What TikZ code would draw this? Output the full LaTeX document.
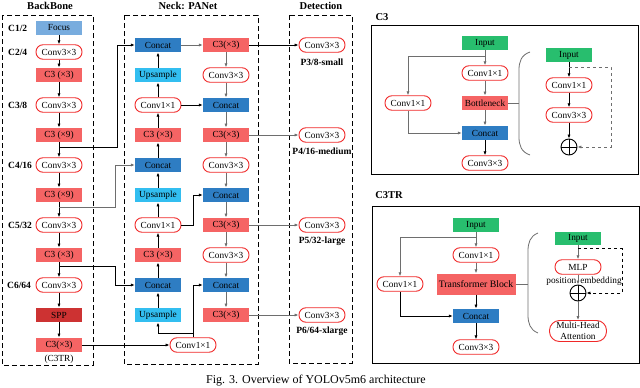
\documentclass[tikz,border=0pt]{standalone}
\usepackage{fontspec}
\setmainfont{Liberation Serif}
\usepackage{xcolor}
\usetikzlibrary{arrows.meta, positioning, calc}
\definecolor{yred}{RGB}{245,100,100}
\definecolor{ydarkred}{RGB}{205,50,50}
\definecolor{yconv}{RGB}{240,40,40}
\definecolor{yblue}{RGB}{46,125,195}
\definecolor{ysky}{RGB}{50,190,240}
\definecolor{yfocus}{RGB}{120,172,222}
\definecolor{ygreen}{RGB}{40,190,110}
\definecolor{ygray}{RGB}{110,110,110}

\begin{document}
\begin{tikzpicture}[x=1pt, y=1pt,
  every node/.style={font=\fontsize{9.3}{11}\selectfont, inner sep=0pt},
  node distance=30pt, on grid,
  box/.style={minimum width=46pt, minimum height=14.5pt},
  conv/.style={draw=yconv, fill=white, line width=0.9pt, rounded corners=7pt, minimum width=46pt, minimum height=14.5pt},
  c3/.style={box, fill=yred},
  concat/.style={box, fill=yblue},
  upsample/.style={box, fill=ysky},
  inbox/.style={box, fill=ygreen},
  lbl/.style={font=\fontsize{9.5}{11}\selectfont\bfseries},
  ttl/.style={font=\fontsize{10.5}{12}\selectfont\bfseries},
  arr/.style={-{Latex[length=4pt,width=3.2pt]}, line width=0.8pt},
  garr/.style={arr, ygray},
  group/.style={draw, dash pattern=on 5pt off 3pt, line width=0.9pt},
  panel/.style={draw, line width=1pt},
  addop/.style={circle, draw, line width=0.9pt, minimum size=16pt}
]
  \useasboundingbox (0,0) rectangle (640,-388);

  % backbone
  \draw[group] (2,-15) rectangle (93,-365);
  \node[ttl] (bbttl) at (50,-6) {BackBone};
  \node[box, fill=yfocus] (focus) at (59,-28) {Focus};
  \node[conv, below=24pt of focus] (bbconv1) {Conv3×3};
  \node[c3, below=23pt of bbconv1] (bbc3a) {C3 (×3)};
  \node[conv, below=of bbc3a] (bbconv2) {Conv3×3};
  \node[c3, below=of bbconv2] (bbc3b) {C3 (×9)};
  \node[conv, below=of bbc3b] (bbconv3) {Conv3×3};
  \node[c3, below=of bbconv3] (bbc3c) {C3 (×9)};
  \node[conv, below=of bbc3c] (bbconv4) {Conv3×3};
  \node[c3, below=of bbconv4] (bbc3d) {C3 (×3)};
  \node[conv, below=of bbc3d] (bbconv5) {Conv3×3};
  \node[box, fill=ydarkred, below=of bbconv5] (spp) {SPP};
  \node[c3, below=of spp] (bbc3tr) {C3(×3)};
  \node[below=14pt of bbc3tr] (bbnote) {(C3TR)};
  \foreach \a/\b in {focus/bbconv1, bbconv1/bbc3a, bbc3a/bbconv2, bbconv2/bbc3b, bbc3b/bbconv3,
    bbconv3/bbc3c, bbc3c/bbconv4, bbconv4/bbc3d, bbc3d/bbconv5, bbconv5/spp, spp/bbc3tr}
    \draw[arr] (\a) -- (\b);
  \node[lbl, anchor=west] (lc1) at (8,0 |- focus) {C1/2};
  \node[lbl, anchor=west] (lc2) at (8,0 |- bbconv1) {C2/4};
  \node[lbl, anchor=west] (lc3) at (8,0 |- bbconv2) {C3/8};
  \node[lbl, anchor=west] (lc4) at (8,0 |- bbconv3) {C4/16};
  \node[lbl, anchor=west] (lc5) at (8,0 |- bbconv4) {C5/32};
  \node[lbl, anchor=west] (lc6) at (7,0 |- bbconv5) {C6/64};

  % neck
  \draw[group] (124,-15) rectangle (258,-364);
  \node[ttl] (nkttl) at (188,-6) {Neck: PANet};
  \node[concat] (ncat1) at (158,-45) {Concat};
  \node[upsample, below=of ncat1] (nup1) {Upsample};
  \node[conv, below=of nup1] (nconv1) {Conv1×1};
  \node[c3, below=of nconv1] (nc3a) {C3 (×3)};
  \node[concat, below=of nc3a] (ncat2) {Concat};
  \node[upsample, below=of ncat2] (nup2) {Upsample};
  \node[conv, below=of nup2] (nconv2) {Conv1×1};
  \node[c3, below=of nconv2] (nc3b) {C3 (×3)};
  \node[concat, below=of nc3b] (ncat3) {Concat};
  \node[upsample, below=of ncat3] (nup3) {Upsample};
  \node[conv, right=134pt of bbc3tr] (nconv3) {Conv1×1};
  \foreach \a/\b in {nup1/ncat1, nconv1/nup1, nc3a/nconv1, ncat2/nc3a, nup2/ncat2,
    nconv2/nup2, nc3b/nconv2, ncat3/nc3b, nup3/ncat3}
    \draw[arr] (\a) -- (\b);

  \node[c3, right=68pt of ncat1] (pc3a) {C3(×3)};
  \node[conv, below=of pc3a] (pconv1) {Conv3×3};
  \node[concat, below=of pconv1] (pcat1) {Concat};
  \node[c3, below=of pcat1] (pc3b) {C3(×3)};
  \node[conv, below=of pc3b] (pconv2) {Conv3×3};
  \node[concat, below=of pconv2] (pcat2) {Concat};
  \node[c3, below=of pcat2] (pc3c) {C3(×3)};
  \node[conv, below=of pc3c] (pconv3) {Conv3×3};
  \node[concat, below=of pconv3] (pcat3) {Concat};
  \node[c3, below=of pcat3] (pc3d) {C3(×3)};
  \foreach \a/\b in {pc3a/pconv1, pconv1/pcat1, pcat1/pc3b, pc3b/pconv2, pconv2/pcat2,
    pcat2/pc3c, pc3c/pconv3, pconv3/pcat3, pcat3/pc3d}
    \draw[garr] (\a) -- (\b);
  \draw[garr] (ncat1) -- (pc3a);
  \draw[arr] (nconv1) -- (pcat1);
  \draw[arr] (nconv2.east) -- ++(12,0) |- (pcat2.west);
  \draw[arr] (nconv3.north) |- (pcat3.west);
  \coordinate (nsplit) at ($(nconv3.north)+(0,4)$);
  \draw[arr] (nsplit) -| (nup3.south);

  % backbone to neck
  \coordinate (tap1) at ($(bbc3b.south)+(0,-5)$);
  \coordinate (tap2) at ($(bbc3c.south)+(0,-5)$);
  \coordinate (tap3) at ($(bbc3d.south)+(0,-4)$);
  \draw[arr] (tap1) -- ++(58,0) |- (ncat1.west);
  \draw[garr] (tap2) -- ++(56,0) |- (ncat2.west);
  \draw[arr] (tap3) -- ++(56,0) |- (ncat3.west);
  \draw[arr] (bbc3tr) -- (nconv3);

  % detection
  \draw[group] (289,-15) rectangle (352,-363);
  \node[ttl] (dtttl) at (321,-6) {Detection};
  \node[conv, right=96pt of pc3a] (det1) {Conv3×3};
  \node[conv, right=96pt of pc3b] (det2) {Conv3×3};
  \node[conv, right=96pt of pc3c] (det3) {Conv3×3};
  \node[conv, right=96pt of pc3d] (det4) {Conv3×3};
  \node[lbl, below=17pt of det1] (dl1) {P3/8-small};
  \node[lbl, below=16pt of det2] (dl2) {P4/16-medium};
  \node[lbl, below=16pt of det3] (dl3) {P5/32-large};
  \node[lbl, below=16pt of det4] (dl4) {P6/64-xlarge};
  \draw[arr] (pc3a) -- (det1);
  \draw[garr] (pc3b) -- (det2);
  \draw[garr] (pc3c) -- (det3);
  \draw[garr] (pc3d) -- (det4);

  % C3 panel
  \draw[panel] (371,-25) rectangle (638,-174);
  \node[ttl] (c3ttl) at (382,-17) {C3};
  \node[inbox] (c3in) at (485,-43) {Input};
  \node[conv, below=of c3in] (c3conv1) {Conv1×1};
  \node[c3, below=of c3conv1] (c3bott) {Bottleneck};
  \node[concat, below=of c3bott] (c3cat) {Concat};
  \node[conv, below=of c3cat] (c3conv3) {Conv3×3};
  \node[conv, left=77pt of c3bott] (c3convl) {Conv1×1};
  \coordinate (c3split) at ($(c3in.south)+(0,-6)$);
  \draw[garr] (c3in) -- (c3conv1);
  \draw[garr] (c3split) -| (c3convl.north);
  \draw[garr] (c3convl.south) |- (c3cat.west);
  \draw[garr] (c3conv1) -- (c3bott);
  \draw[garr] (c3bott) -- (c3cat);
  \draw[arr] (c3cat) -- (c3conv3);
  \coordinate (c3brace) at (519,-103);
  \draw[ygray, line width=0.8pt] (c3bott.east) -- (c3brace);
  \draw[ygray, line width=0.8pt] (530,-52) .. controls (521,-55) and (519,-62) .. (519,-70)
    -- (519,-137) .. controls (519,-145) and (521,-152) .. (530,-155);
  \node[inbox] (bnin) at (569,-55) {Input};
  \node[conv, below=of bnin] (bnconv1) {Conv1×1};
  \node[conv, below=of bnconv1] (bnconv3) {Conv3×3};
  \node[addop, below=32pt of bnconv3] (bnadd) {};
  \draw (bnadd.north) -- (bnadd.south) (bnadd.west) -- (bnadd.east);
  \draw[arr] (bnin) -- (bnconv1);
  \draw[arr] (bnconv1) -- (bnconv3);
  \draw[arr] (bnconv3) -- (bnadd);
  \coordinate (bnsplit) at ($(bnin.south)+(0,-5)$);
  \draw[garr, dashed] (bnsplit) -- ++(42,0) |- (bnadd.east);

  % C3TR panel
  \draw[panel] (372,-206) rectangle (639,-363);
  \node[ttl] (trttl) at (389,-195) {C3TR};
  \node[inbox] (trin) at (476,-225) {Input};
  \node[conv, below=of trin] (trconv1) {Conv1×1};
  \node[box, fill=yred, minimum width=79pt, minimum height=21pt, font=\fontsize{9.8}{11}\selectfont, below=29pt of trconv1] (trblock) {Transformer Block};
  \node[concat, below=32pt of trblock] (trcat) {Concat};
  \node[conv, below=31pt of trcat] (trconv3) {Conv3×3};
  \node[conv, left=76pt of trblock] (trconvl) {Conv1×1};
  \coordinate (trsplit) at ($(trin.south)+(0,-5)$);
  \draw[garr] (trin) -- (trconv1);
  \draw[garr] (trsplit) -| (trconvl.north);
  \draw[arr] (trconvl.south) |- (trcat.west);
  \draw[garr] (trconv1) -- (trblock);
  \draw[arr] (trblock) -- (trcat);
  \draw[arr] (trcat) -- (trconv3);
  \coordinate (trbrace) at (528,-284);
  \draw[ygray, line width=0.8pt] (trblock.east) -- (trbrace);
  \draw[ygray, line width=0.8pt] (538,-233) .. controls (530,-236) and (528,-243) .. (528,-251)
    -- (528,-315) .. controls (528,-323) and (530,-330) .. (538,-333);
  \node[inbox, minimum height=13pt] (tfin) at (578,-238) {Input};
  \node[conv, below=29pt of tfin] (tfmlp) {MLP};
  \node[addop, below=26pt of tfmlp] (tfadd) {};
  \draw (tfadd.north) -- (tfadd.south) (tfadd.west) -- (tfadd.east);
  \node[conv, minimum width=57pt, minimum height=21pt, rounded corners=10pt, align=center, below=38pt of tfadd] (tfmha) {Multi-Head\\Attention};
  \node[below=14pt of tfmlp, xshift=6pt] (tfpos) {position\hspace{4pt}embedding};
  \draw[garr] (tfin) -- (tfmlp);
  \draw[garr] (tfmlp) -- (tfadd);
  \draw[garr] (tfadd) -- (tfmha);
  \coordinate (tfsplit) at ($(tfin.south)+(0,-4)$);
  \draw[arr, dashed] (tfsplit) -- ++(44,0) |- (tfadd.east);

  \node[font=\fontsize{12}{14}\selectfont] (caption) at (316,-381) {Fig. 3. Overview of YOLOv5m6 architecture};
\end{tikzpicture}
\end{document}
